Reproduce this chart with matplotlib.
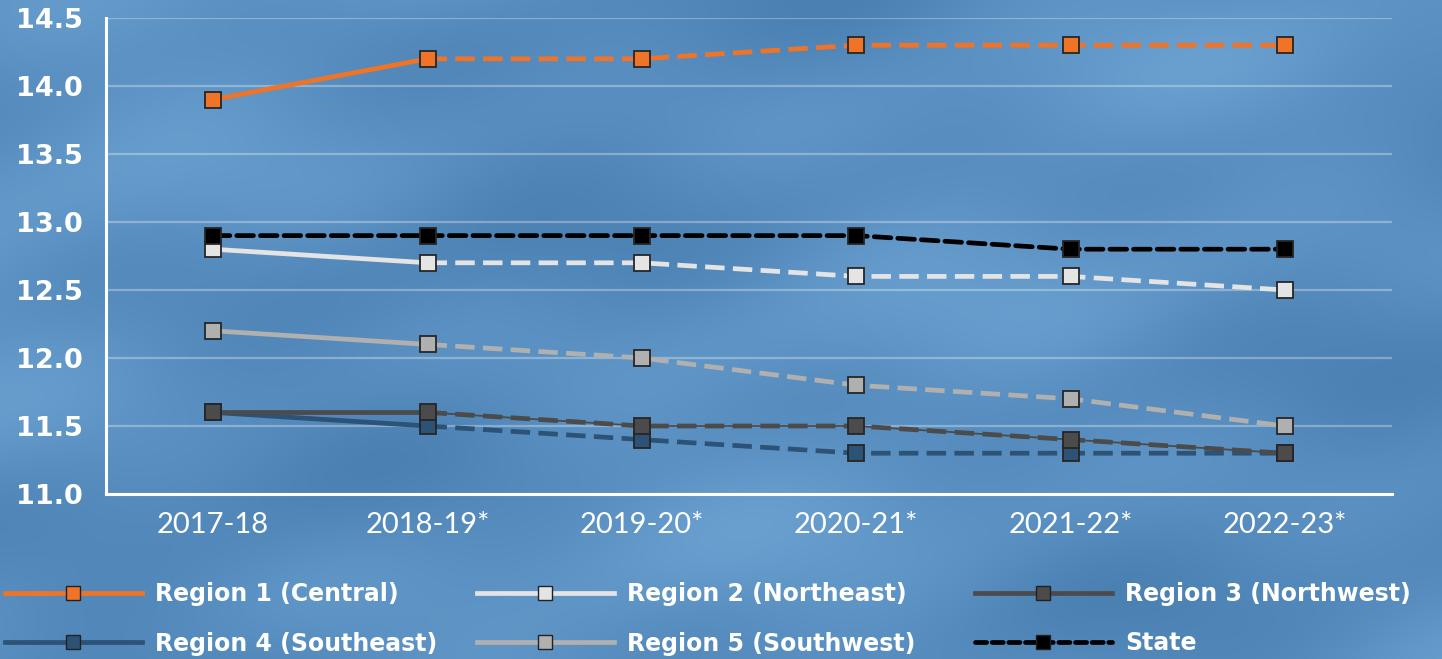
import numpy as np
import matplotlib
matplotlib.use("Agg")
import matplotlib.pyplot as plt
from matplotlib.lines import Line2D

plt.rcParams['lines.scale_dashes'] = False

years = ["2017-18", "2018-19*", "2019-20*", "2020-21*", "2021-22*", "2022-23*"]
region1 = [13.9, 14.2, 14.2, 14.3, 14.3, 14.3]
region2 = [12.8, 12.7, 12.7, 12.6, 12.6, 12.5]
region3 = [11.6, 11.6, 11.5, 11.5, 11.4, 11.3]
region4 = [11.6, 11.5, 11.4, 11.3, 11.3, 11.3]
region5 = [12.2, 12.1, 12.0, 11.8, 11.7, 11.5]
state = [12.9, 12.9, 12.9, 12.9, 12.8, 12.8]
labels = ["Region 1 (Central)", "Region 2 (Northeast)", "Region 3 (Northwest)",
          "Region 4 (Southeast)", "Region 5 (Southwest)", "State"]
yticks = [11.0, 11.5, 12.0, 12.5, 13.0, 13.5, 14.0, 14.5]

colors = ["#f07428", "#e4e4e4", "#4b4b4b", "#2c5275", "#b0b0b0", "#000000"]

W, H = 1442, 659
fig = plt.figure(figsize=(W / 100, H / 100), dpi=100)

# background
bg = fig.add_axes([0, 0, 1, 1])
yy, xx = np.mgrid[0:1:200j, 0:1:440j]
tex = (np.sin(xx * 9 + yy * 4) * 0.5 + np.sin(xx * 17 - yy * 11 + 1.3) * 0.3
       + np.sin(xx * 5 + yy * 19 + 2.1) * 0.35 + np.sin(xx * 29 + yy * 23) * 0.15)
tex = (tex - tex.min()) / (tex.max() - tex.min())
c1 = np.array([75, 128, 178]) / 255
c2 = np.array([105, 160, 208]) / 255
img = c1[None, None, :] * (1 - tex[..., None]) + c2[None, None, :] * tex[..., None]
bg.imshow(img, aspect='auto', extent=[0, 1, 0, 1], interpolation='bicubic')
bg.axis('off')

ax = fig.add_axes([106 / W, 1 - 494 / H, (1392 - 106) / W, (494 - 18) / H])
ax.set_facecolor('none')

x = np.arange(len(years))
series = [region1, region2, region3, region4, region5, state]
lw = 3.4
dash = (14, 6)
handles = []
order_z = [3, 4, 5, 2, 1, 6]
for i, (vals, col) in enumerate(zip(series, colors)):
    z = 3 + order_z[i]
    v = np.array(vals)
    if i == 5:
        ax.plot(x, v, color=col, lw=lw, dashes=(12, 5), dash_capstyle='round', zorder=z)
        ls_h = Line2D([], [], color=col, lw=lw, dashes=(8, 4), dash_capstyle='round',
                      marker='s', markersize=10, markerfacecolor=col, markeredgecolor='#222222')
    else:
        ax.plot(x[:2], v[:2], color=col, lw=lw, solid_capstyle='butt', zorder=z)
        if i == 2:
            ax.plot(x[1:], v[1:], color=col, lw=1.3, zorder=z)
        ax.plot(x[1:], v[1:], color=col, lw=lw, dashes=dash, zorder=z)
        ls_h = Line2D([], [], color=col, lw=lw, marker='s', markersize=10,
                      markerfacecolor=col, markeredgecolor='#222222')
    ax.plot(x, v, ls='none', marker='s', markersize=11.5, markerfacecolor=col,
            markeredgecolor='#262626', markeredgewidth=1.3, zorder=z + 0.5)
    handles.append(ls_h)

ax.set_xlim(-0.5, 5.5)
ax.set_ylim(11.0, 14.5)
ax.set_yticks(yticks)
ax.set_yticklabels([f"{t:.1f}" for t in yticks])
ax.set_xticks(x)
ax.set_xticklabels(years)
for lab in ax.get_yticklabels():
    lab.set_fontweight('bold')
    lab.set_fontsize(19.5)
    lab.set_color('white')
for lab in ax.get_xticklabels():
    lab.set_fontweight('normal')
    lab.set_fontsize(21)
    lab.set_color('white')
    lab.set_family('Lato')
ax.tick_params(axis='both', length=0)
ax.tick_params(axis='y', pad=17)
ax.tick_params(axis='x', pad=13)
for s in ['top', 'right']:
    ax.spines[s].set_visible(False)
for s in ['left', 'bottom']:
    ax.spines[s].set_color('white')
    ax.spines[s].set_linewidth(2.2)
ax.yaxis.grid(True, color='white', alpha=0.3, lw=1.6)
ax.set_axisbelow(True)

col_x = [5, 477, 975]
for c in range(3):
    hs = [handles[c], handles[c + 3]]
    ls = [labels[c], labels[c + 3]]
    leg = fig.legend(hs, ls, loc='upper left', bbox_to_anchor=(col_x[c] / W, 1 - 582 / H),
                     frameon=False, borderpad=0, borderaxespad=0, handlelength=5.8,
                     handletextpad=0.55, labelspacing=1.08,
                     prop={'weight': 'bold', 'size': 17})
    for t in leg.get_texts():
        t.set_color('white')

fig.savefig("out.png", dpi=100)
